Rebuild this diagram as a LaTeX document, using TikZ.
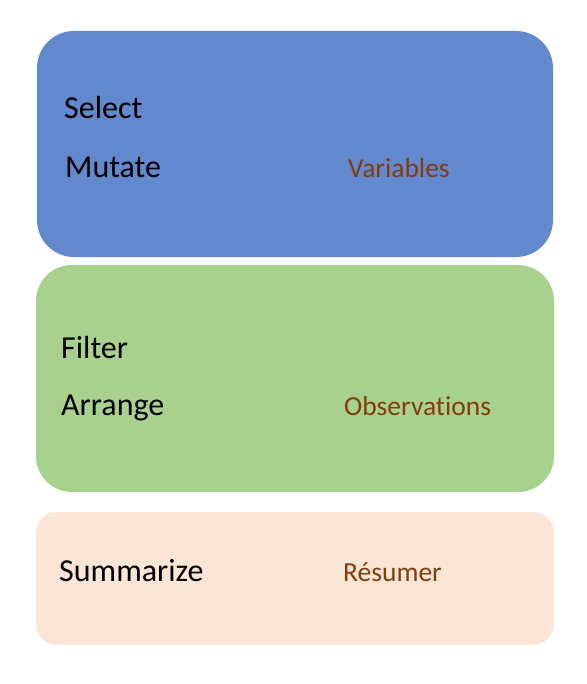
\documentclass[tikz,border=0pt]{standalone}
\usepackage{fontspec}
\setmainfont{Carlito}[RawFeature={-liga;-clig;-calt;-dlig}]
\definecolor{varblue}{HTML}{6289CE}
\definecolor{obsgreen}{HTML}{A9D18E}
\definecolor{sumpeach}{HTML}{FBE5D6}
\definecolor{labelbrown}{HTML}{843C0C}
\tikzset{
  panel/.style={fill=#1, draw=none},
  verb/.style={anchor=base west, inner sep=0pt, font=\fontsize{32bp}{38bp}\selectfont, text=black},
  tag/.style={anchor=base west, inner sep=0pt, font=\fontsize{27.5bp}{32bp}\selectfont, text=labelbrown},
}
\begin{document}
\begin{tikzpicture}[x=1bp,y=-1bp]
  \useasboundingbox (0,0) rectangle (587,684);
  % three grouped panels
  \fill[panel=varblue, rounded corners=37bp] (37,31) rectangle (553,257);
  \fill[panel=obsgreen, rounded corners=36bp] (36,265) rectangle (554,492);
  \fill[panel=sumpeach, rounded corners=21bp] (36,512) rectangle (554,645);
  % verbs acting on variables
  \node[verb] (select) at (64,119) {Select};
  \node[verb] (mutate) at (65,177) {Mutate};
  \node[tag] (variables) at (348,177) {Variables};
  % verbs acting on observations
  \node[verb] (filter) at (61,358) {Filter};
  \node[verb] (arrange) at (61,415) {Arrange};
  \node[tag] (observations) at (344,415) {Observa{}tions};
  % summary
  \node[verb] (summarize) at (59,581) {Summarize};
  \node[tag] (resumer) at (343,581) {Résumer};
\end{tikzpicture}
\end{document}
